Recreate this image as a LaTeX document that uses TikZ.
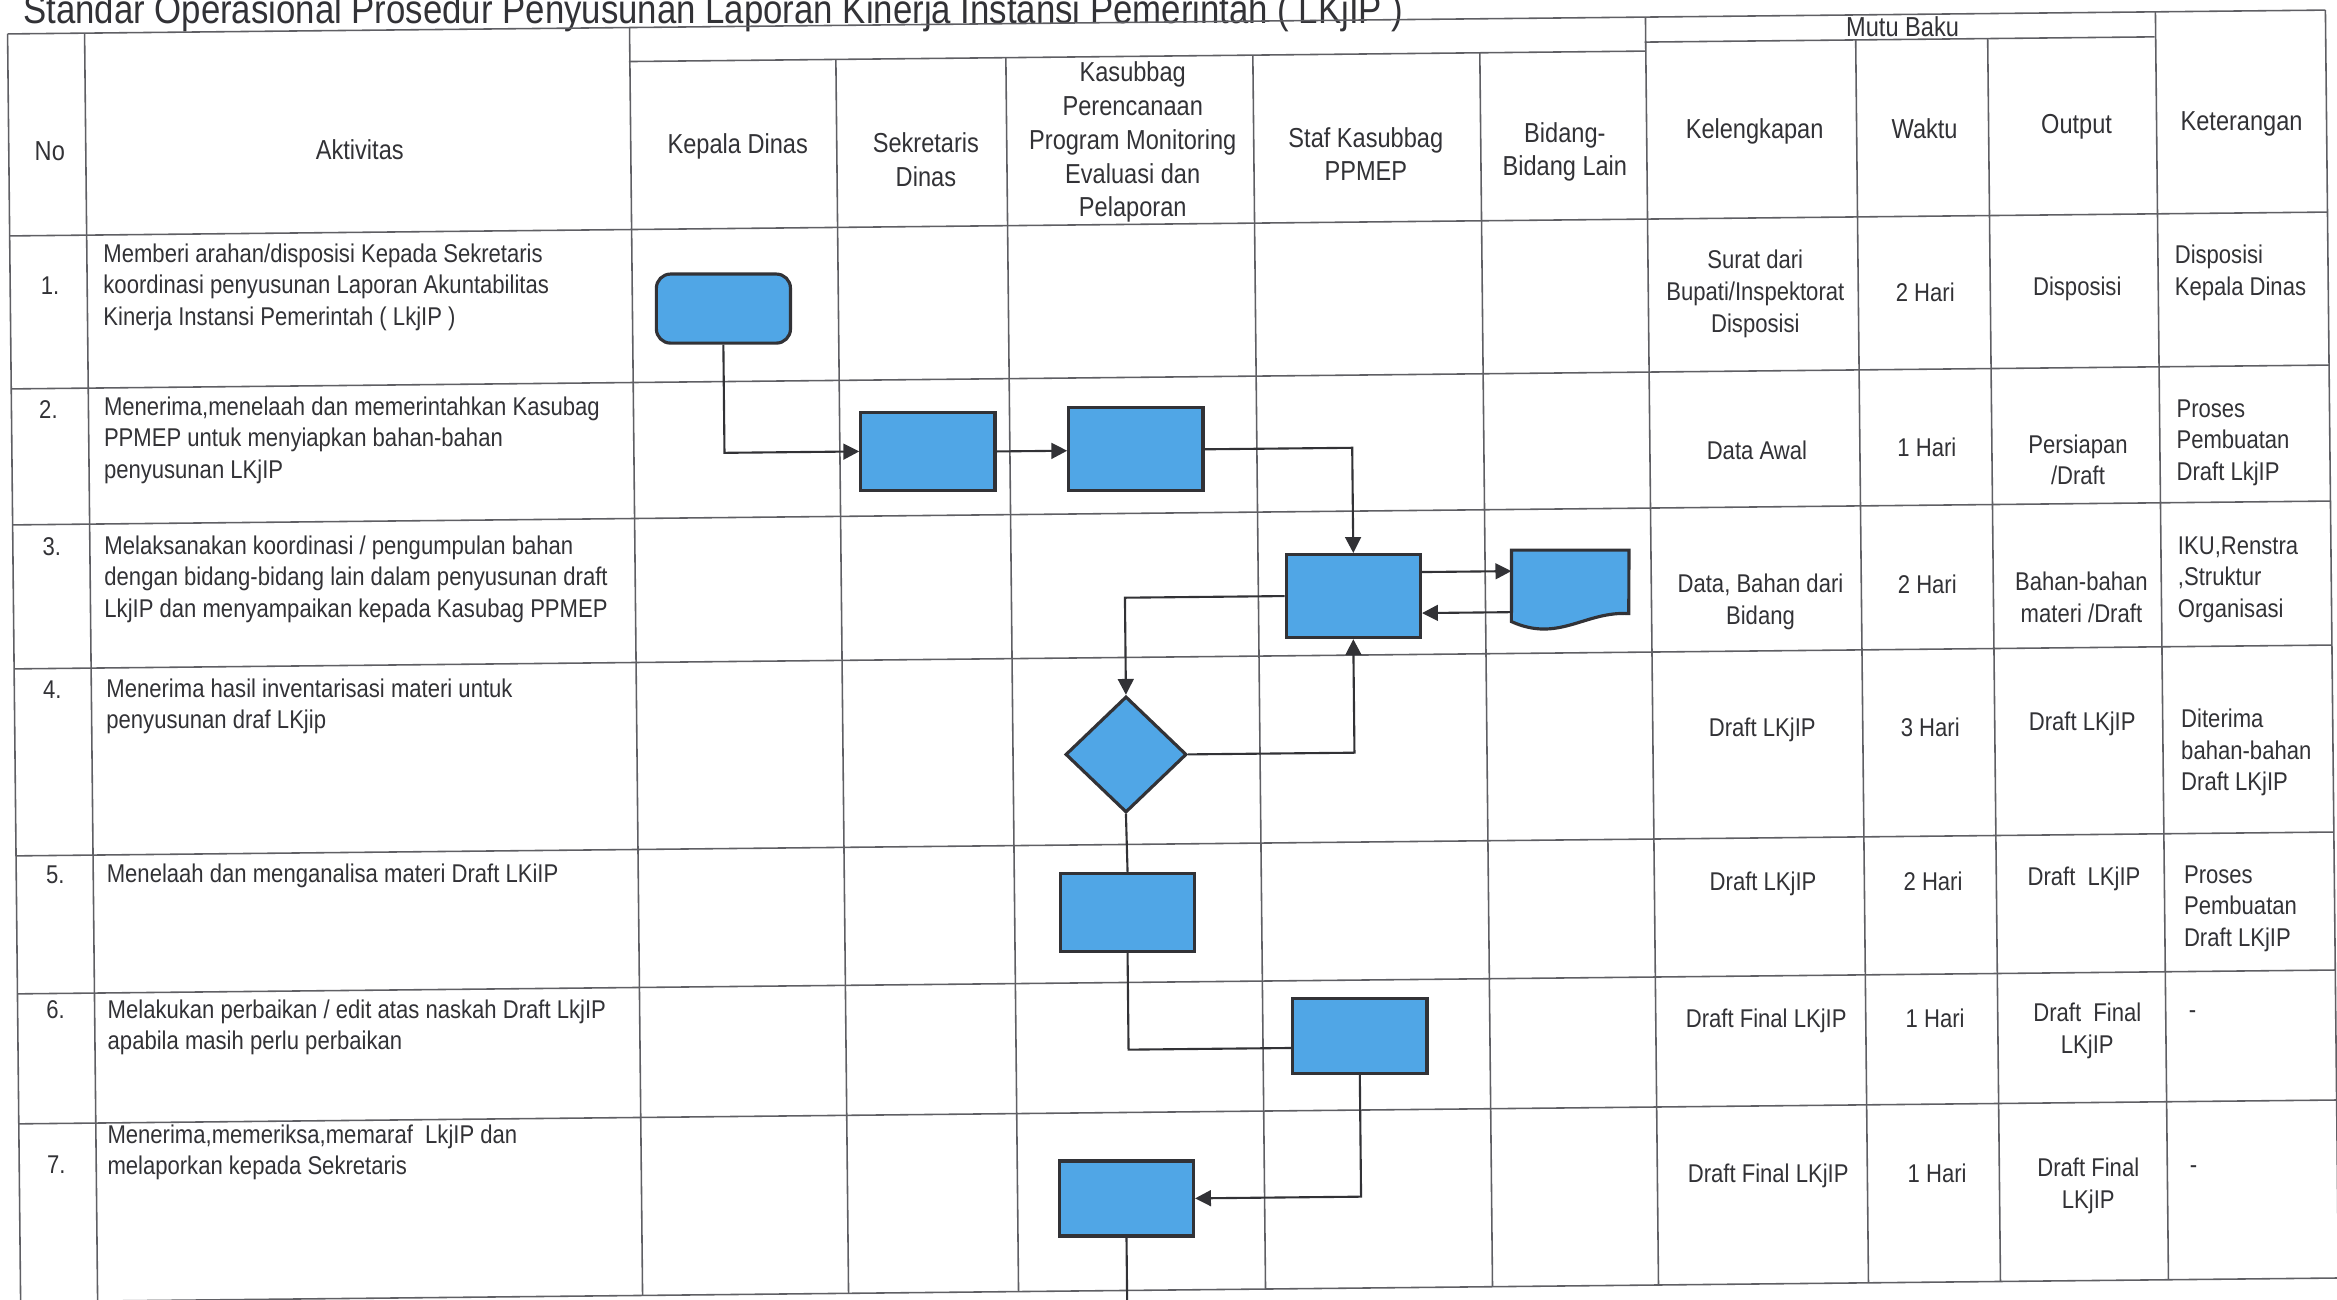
\documentclass[tikz,border=0pt]{standalone}
\usepackage{fontspec}
\setmainfont{Liberation Sans}[FakeStretch=0.86]
\usetikzlibrary{positioning,arrows.meta,shapes.geometric}
\definecolor{flowblue}{RGB}{80,166,230}
\definecolor{ink}{RGB}{50,50,54}
\definecolor{rulegray}{RGB}{95,95,100}
\tikzset{
  tline/.style={draw=rulegray,line width=0.45pt},
  titlef/.style={font=\fontsize{11.5}{13}\selectfont,text=ink,inner sep=0pt},
  hd/.style={font=\fontsize{7.8}{9.6}\selectfont,align=center,text=ink,inner sep=0pt},
  cell/.style={font=\fontsize{7.3}{9}\selectfont,align=center,text=ink,inner sep=0pt},
  act/.style={font=\fontsize{7.3}{9}\selectfont,align=left,text=ink,inner sep=0pt,anchor=north west},
  remark/.style={font=\fontsize{7.3}{9}\selectfont,align=left,text=ink,inner sep=0pt,anchor=west},
  proc/.style={draw=ink,fill=flowblue,line width=0.9pt,inner sep=0pt,minimum width=1.34cm,minimum height=0.78cm},
  startbox/.style={proc,rounded corners=4pt,minimum height=0.69cm},
  decide/.style={diamond,draw=ink,fill=flowblue,line width=0.9pt,inner sep=0pt,minimum width=1.21cm,minimum height=1.16cm},
  docbox/.style={inner sep=0pt,minimum width=1.16cm,minimum height=0.80cm},
  link/.style={draw=ink,line width=0.6pt},
  arr/.style={link,-{Triangle[length=4.5pt,width=4.5pt]}},
}
\begin{document}
\begin{tikzpicture}[x=0.01cm,y=-0.01cm]
  \useasboundingbox (0,0) rectangle (2337,1299);
  \clip (0,0) rectangle (2337,1299);
  % the sheet lies a little askew, as scanned
  \begin{scope}[rotate around={0.59:(1168,656)}]
  \node[titlef,anchor=base west] (title) at (29,12)
    {Standar Operasional Prosedur Penyusunan Laporan Kinerja Instansi Pemerintah ( LKjIP )};

  % table rules
  \draw[tline] (14,22) -- (2332,22) (635,56) -- (1651,56) (1651,47) -- (2161,47)
    (14,224) -- (2332,224) (14,377) -- (2332,377) (14,513) -- (2332,513)
    (14,657) -- (2332,657) (14,844) -- (2332,844) (14,982) -- (2332,982)
    (14,1112) -- (2332,1112) (14,1290) -- (2332,1290);
  \draw[tline] (14,22) -- (14,1290) (91,22) -- (91,1290) (636,22) -- (636,1290)
    (842,56) -- (842,1290) (1012,56) -- (1012,1290) (1259,56) -- (1259,1290)
    (1486,56) -- (1486,1290) (1652,22) -- (1652,1290) (1862,47) -- (1862,1290)
    (1994,47) -- (1994,1290) (2162,22) -- (2162,1290) (2332,22) -- (2332,1290);

  % header
  \node[hd] (hno) at (55,140) {No};
  \node[hd] (hakt) at (365,141) {Aktivitas};
  \node[hd] (hkadis) at (743,142) {Kepala Dinas};
  \node[hd] (hsekr) at (931,157) {Sekretaris\\Dinas};
  \node[hd] (hkasub) at (1138,142) {Kasubbag\\Perencanaan\\Program Monitoring\\Evaluasi dan\\Pelaporan};
  \node[hd] (hstaf) at (1371,156) {Staf Kasubbag\\PPMEP};
  \node[hd] (hbid) at (1570,156) {Bidang-\\Bidang Lain};
  \node[hd] (hmutu) at (1909,34) {Mutu Baku};
  \node[hd] (hkel) at (1760,137) {Kelengkapan};
  \node[hd] (hwak) at (1930,136) {Waktu};
  \node[hd] (hout) at (2082,136) {Output};
  \node[hd] (hket) at (2247,135) {Keterangan};

  % numbers and activities
  \node[cell] (n1) at (54,274) {1.};
  \node[cell] (n2) at (51,398) {2.};
  \node[cell] (n3) at (53,535) {3.};
  \node[cell] (n4) at (52,678) {4.};
  \node[cell] (n5) at (53,863) {5.};
  \node[cell] (n6) at (52,998) {6.};
  \node[cell] (n7) at (51,1153) {7.};
  \node[act] (a1) at (107,232) {Memberi arahan/disposisi Kepada Sekretaris\\koordinasi penyusunan Laporan Akuntabilitas\\Kinerja Instansi Pemerintah ( LkjIP )};
  \node[act] (a2) at (106,385) {Menerima,menelaah dan memerintahkan Kasubag\\PPMEP untuk menyiapkan bahan-bahan\\penyusunan LKjIP};
  \node[act] (a3) at (105,524) {Melaksanakan koordinasi / pengumpulan bahan\\dengan bidang-bidang lain dalam penyusunan draft\\LkjIP dan menyampaikan kepada Kasubag PPMEP};
  \node[act] (a4) at (105.5,667) {Menerima hasil inventarisasi materi untuk\\penyusunan draf LKjip};
  \node[act] (a5) at (104,852) {Menelaah dan menganalisa materi Draft LKiIP};
  \node[act] (a6) at (103.5,988) {Melakukan perbaikan / edit atas naskah Draft LkjIP\\apabila masih perlu perbaikan};
  \node[act] (a7) at (102,1113) {Menerima,memeriksa,memaraf\ \ LkjIP dan\\melaporkan kepada Sekretaris};

  % mutu baku
  \node[cell] (k1) at (1759,300) {Surat dari\\Bupati/Inspektorat\\Disposisi};
  \node[cell] (w1) at (1929,300) {2 Hari};
  \node[cell] (o1) at (2081,298) {Disposisi};
  \node[remark] (c1) at (2178,283) {Disposisi\\Kepala Dinas};
  \node[cell] (k2) at (1759,456) {Data Awal};
  \node[cell] (w2) at (1929,455) {1 Hari};
  \node[cell] (o2) at (2080,469) {Persiapan\\/Draft};
  \node[remark] (c2) at (2178,453) {Proses\\Pembuatan\\Draft LkjIP};
  \node[cell] (k3) at (1761,608) {Data, Bahan dari\\Bidang};
  \node[cell] (w3) at (1928,592) {2 Hari};
  \node[cell] (o3) at (2082,607) {Bahan-bahan\\materi /Draft};
  \node[remark] (c3) at (2178,590) {IKU,Renstra\\,Struktur\\Organisasi};
  \node[cell] (k4) at (1761.5,736) {Draft LKjIP};
  \node[cell] (w4) at (1929.5,735) {3 Hari};
  \node[cell] (o4) at (2081.5,733) {Draft LKjIP};
  \node[remark] (c4) at (2179.5,763) {Diterima\\bahan-bahan\\Draft LKjIP};
  \node[cell] (k5) at (1760.7,890) {Draft LKjIP};
  \node[cell] (w5) at (1930.7,889) {2 Hari};
  \node[cell] (o5) at (2081.7,888) {Draft\ \ LKjIP};
  \node[remark] (c5) at (2180.7,919) {Proses\\Pembuatan\\Draft LKjIP};
  \node[cell] (k6) at (1762.4,1027) {Draft Final LKjIP};
  \node[cell] (w6) at (1931.4,1026) {1 Hari};
  \node[cell] (o6) at (2083.4,1040) {Draft\ \ Final\\LKjIP};
  \node[remark] (c6) at (2184.4,1025) {-};
  \node[cell] (k7) at (1762.8,1182) {Draft Final LKjIP};
  \node[cell] (w7) at (1931.8,1181) {1 Hari};
  \node[cell] (o7) at (2082.8,1195) {Draft Final\\LKjIP};
  \node[remark] (c7) at (2183.8,1180) {-};

  % flow
  \node[startbox] (s1) at (727,304) {};
  \node[proc] (sekr) at (930,449) {};
  \node[proc,minimum height=0.83cm] (kasub) at (1138,449) {};
  \node[proc,minimum height=0.83cm] (staf) at (1354,598) {};
  \node[docbox] (doc) at (1571,595) {};
  \node[decide] (dec) at (1125,754) {};
  \node[proc] (rev) at (1125,912) {};
  \node[proc,minimum height=0.75cm] (edit) at (1356,1038) {};
  \node[proc,minimum height=0.75cm] (paraf) at (1121,1198) {};
  \coordinate (tail) at (1116,1330);

  \draw[draw=ink,fill=flowblue,line width=0.9pt] (doc.north west) -- (doc.north east)
    -- ([yshift=0.18cm]doc.south east)
    .. controls ([xshift=-0.44cm,yshift=0.21cm]doc.south east) and ([xshift=0.47cm,yshift=-0.12cm]doc.south west) ..
    ([yshift=0.10cm]doc.south west) -- cycle;

  \draw[arr] (s1.south) |- (sekr.west);
  \draw[arr] (sekr.east) -- (sekr.east -| kasub.west);
  \draw[arr] (kasub.east) -| (staf.north);
  \draw[arr] ([yshift=0.24cm]staf.east) -- ([yshift=0.24cm]staf.east -| doc.west);
  \draw[arr] ([yshift=-0.17cm]staf.east -| doc.west) -- ([yshift=-0.17cm]staf.east);
  \draw[arr] (staf.west) -| (dec.north);
  \draw[arr] (dec.east) -| (staf.south);
  \draw[link] (dec.south) -- (rev.north);
  \draw[link] (rev.south) |- ([yshift=-0.12cm]edit.west);
  \draw[arr] (edit.south) |- (paraf.east);
  \draw[link] (paraf.south) -- (paraf.south |- tail);
  \end{scope}
\end{tikzpicture}
\end{document}
